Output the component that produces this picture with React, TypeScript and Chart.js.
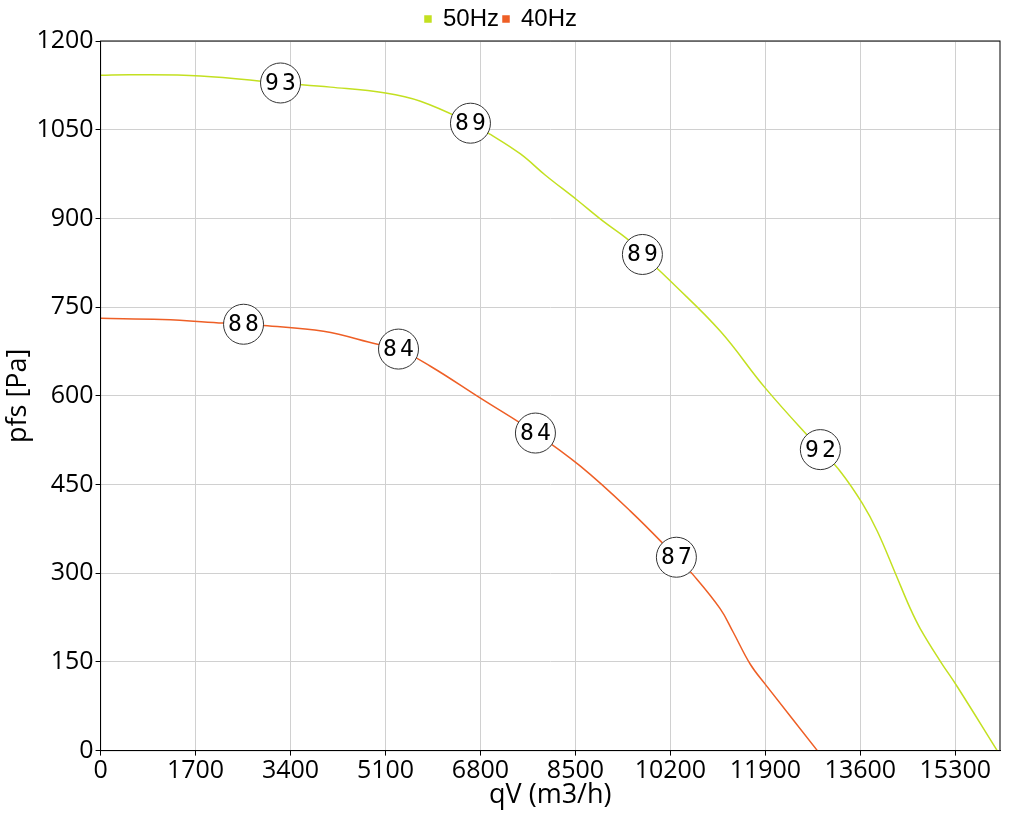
import React, { useEffect, useRef } from "react";
import { Chart, registerables } from "chart.js";

Chart.register(...registerables);

const xTicks = [0, 1700, 3400, 5100, 6800, 8500, 10200, 11900, 13600, 15300];
const yTicks = [0, 150, 300, 450, 600, 750, 900, 1050, 1200];

const q50 = [0, 550, 1789, 3221, 4116, 5100, 5726, 6621, 6979, 7516, 7963, 8518, 9001, 9431, 9699, 10200, 11095, 11900, 12884, 13242, 13636, 13904, 14226, 14495, 14674, 15032, 15336, 16050];
const p50 = [1142, 1143, 1141, 1129, 1122, 1112, 1098, 1061, 1042, 1009, 973, 932, 895, 865, 839, 794, 709, 613, 509, 472, 418, 371, 300, 240, 206, 151, 108, 0];

const q40 = [0, 1100, 2201, 2559, 2917, 3990, 4957, 5333, 5905, 6800, 7784, 8589, 9484, 10307, 10600, 11090, 11320, 11630, 11900, 12831];
const p40 = [731, 729, 723, 721, 719, 709, 687, 679, 650, 596, 537, 481, 405, 327, 298, 240, 201, 146, 112, 0];

const lab50X = [3221, 6621, 9699, 12884];
const lab50Y = [1129, 1061, 839, 509];
const lab50T = ["93", "89", "89", "92"];
const lab40X = [2559, 5333, 7784, 10307];
const lab40Y = [721, 679, 537, 327];
const lab40T = ["88", "84", "84", "87"];

const green = "#c3e021";
const orange = "#ee5f26";

const labelsPlugin = {
  id: "effLabels",
  afterDatasetsDraw(chart: any) {
    const { ctx, scales } = chart;
    const draw = (xs: number[], ys: number[], ts: string[]) => {
      xs.forEach((x, i) => {
        const px = scales.x.getPixelForValue(x);
        const py = scales.y.getPixelForValue(ys[i]);
        ctx.save();
        ctx.beginPath();
        ctx.arc(px, py, 20, 0, Math.PI * 2);
        ctx.fillStyle = "#ffffff";
        ctx.fill();
        ctx.lineWidth = 1;
        ctx.strokeStyle = "#333333";
        ctx.stroke();
        ctx.fillStyle = "#000000";
        ctx.font = '23px "DejaVu Sans Mono", monospace';
        ctx.textAlign = "left";
        ctx.textBaseline = "middle";
        const chars = ts[i].split("");
        const adv = 17;
        chars.forEach((c, k) => {
          const w = ctx.measureText(c).width;
          const cx = px + (k - (chars.length - 1) / 2) * adv;
          ctx.fillText(c, cx - w / 2, py + 1);
        });
        ctx.restore();
      });
    };
    draw(lab50X, lab50Y, lab50T);
    draw(lab40X, lab40Y, lab40T);
  },
};

const framePlugin = {
  id: "frame",
  afterDraw(chart: any) {
    const { ctx, chartArea } = chart;
    ctx.save();
    ctx.strokeStyle = "#000000";
    ctx.lineWidth = 1;
    ctx.strokeRect(chartArea.left, chartArea.top, chartArea.right - chartArea.left, chartArea.bottom - chartArea.top);
    ctx.restore();
  },
};

export default function App() {
  const ref = useRef<HTMLCanvasElement>(null);
  useEffect(() => {
    document.body.style.margin = "0";
    const font = "'Open Sans'";
    const chart = new Chart(ref.current!, {
      type: "line",
      data: {
        datasets: [
          {
            label: "50Hz",
            data: q50.map((x, i) => ({ x, y: p50[i] })),
            borderColor: green,
            backgroundColor: green,
            borderWidth: 1.5,
            pointRadius: 0,
            tension: 0.4,
          },
          {
            label: "40Hz",
            data: q40.map((x, i) => ({ x, y: p40[i] })),
            borderColor: orange,
            backgroundColor: orange,
            borderWidth: 1.5,
            pointRadius: 0,
            tension: 0.4,
          },
        ],
      },
      options: {
        animation: false,
        responsive: false,
        layout: { padding: { top: 3, right: 20, left: 2, bottom: 8 } },
        plugins: {
          legend: {
            position: "top",
            labels: {
              boxWidth: 6,
              boxHeight: 6,
              padding: 4,
              color: "#000",
              font: { family: "'Liberation Sans'", size: 24 },
            },
          },
          tooltip: { enabled: false },
        },
        scales: {
          x: {
            type: "linear",
            min: 0,
            max: 16100,
            afterBuildTicks: (axis: any) => {
              axis.ticks = xTicks.map((v) => ({ value: v }));
            },
            ticks: { color: "#000", font: { family: font, size: 25 }, maxRotation: 0, padding: 0, callback: (v: any) => String(v) },
            grid: { color: "#d0d0d0", tickLength: 5, tickColor: "#000" },
            border: { color: "#000" },
            title: { display: true, text: "qV (m3/h)", color: "#000", font: { family: font, size: 27 }, padding: { top: -6, bottom: 0 } },
          },
          y: {
            type: "linear",
            min: 0,
            max: 1200,
            afterBuildTicks: (axis: any) => {
              axis.ticks = yTicks.map((v) => ({ value: v }));
            },
            ticks: { color: "#000", font: { family: font, size: 25 }, padding: 2, callback: (v: any) => String(v) },
            grid: { color: "#d0d0d0", tickLength: 5, tickColor: "#000" },
            border: { color: "#000" },
            title: { display: true, text: "pfs [Pa]", color: "#000", font: { family: font, size: 27 }, padding: 0 },
          },
        },
      },
      plugins: [labelsPlugin, framePlugin],
    } as any);
    return () => chart.destroy();
  }, []);
  return <canvas ref={ref} width={1020} height={820} style={{ display: "block" }} />;
}
